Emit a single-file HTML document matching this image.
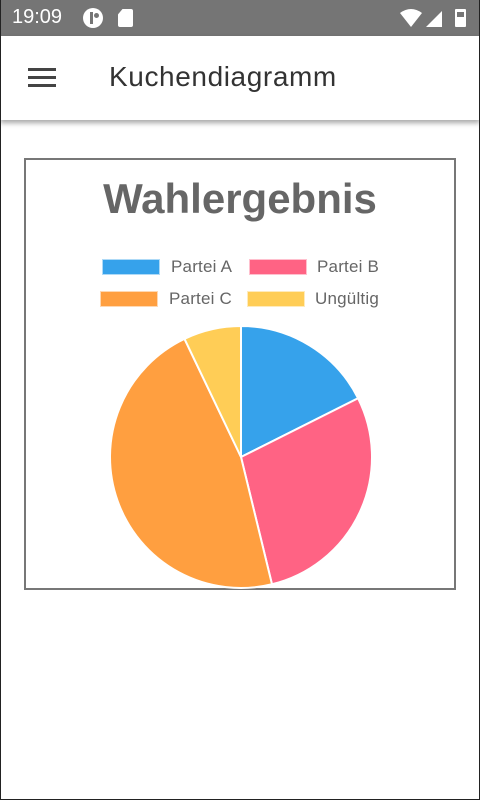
<!DOCTYPE html>
<html><head><meta charset="utf-8">
<style>
*{margin:0;padding:0;box-sizing:border-box}
body{width:480px;height:800px;position:relative;overflow:hidden;background:#fff;font-family:"Liberation Sans",sans-serif;}
#frame{position:absolute;left:0;top:0;width:480px;height:800px;border:1px solid #222;border-top:none;pointer-events:none;z-index:9}
#status{position:absolute;left:0;top:0;width:480px;height:36px;background:#757575;color:#fff}
#appbar{position:absolute;left:0;top:36px;width:480px;height:84px;background:#fff;box-shadow:0 3px 5px rgba(0,0,0,0.35)}
.lg{position:absolute;font-size:17px;color:#666;letter-spacing:0.2px}
.sw{position:absolute;width:58px;height:16px;border:1px solid rgba(255,255,255,0.6)}
</style></head><body>
<div id="frame"></div>
<div id="status">
 <div style="position:absolute;left:12px;top:6px;font-size:20px">19:09</div>
 <div style="position:absolute;left:83px;top:8px;width:20px;height:20px;border-radius:50%;background:#fff"><div style="position:absolute;left:7px;top:4px;width:3px;height:12px;background:#757575"></div><div style="position:absolute;left:11px;top:5px;width:5px;height:5px;border-radius:50%;background:#757575"></div></div>
 <div style="position:absolute;left:118px;top:9px;width:15px;height:18px;background:#fff;border-radius:2px;clip-path:polygon(30% 0,100% 0,100% 100%,0 100%,0 30%)"></div>
 <svg style="position:absolute;left:400px;top:8px" width="70" height="20"><path d="M0 5 Q11 -3 22 5 L11 19Z" fill="#fff"/><path d="M26 19 L42 3 L42 19Z" fill="#fff"/><rect x="55" y="1" width="11" height="18" rx="1" fill="#fff"/><rect x="57" y="4" width="7" height="5" fill="#757575"/></svg>
</div>
<div id="appbar">
 <div style="position:absolute;left:28px;top:32px;width:28px"><div style="height:3px;background:#444;margin-bottom:5px"></div><div style="height:3px;background:#444;margin-bottom:5px"></div><div style="height:3px;background:#444"></div></div>
 <div style="position:absolute;left:109px;top:25px;font-size:28px;color:#333;letter-spacing:0.6px">Kuchendiagramm</div>
</div>
<div style="position:absolute;left:24px;top:158px;width:432px;height:432px;border:2px solid #777"></div>
<div style="position:absolute;left:24px;top:175px;width:432px;text-align:center;font-size:42px;font-weight:bold;color:#666">Wahlergebnis</div>
<div class="sw" style="left:102px;top:259px;background:#36a2eb"></div>
<div class="lg" style="left:171px;top:257px">Partei A</div>
<div class="sw" style="left:249px;top:259px;background:#ff6384"></div>
<div class="lg" style="left:317px;top:257px">Partei B</div>
<div class="sw" style="left:100px;top:291px;background:#ff9f40"></div>
<div class="lg" style="left:169px;top:289px">Partei C</div>
<div class="sw" style="left:247px;top:291px;background:#ffcd56"></div>
<div class="lg" style="left:315px;top:289px">Ungültig</div>
<svg id="pie" style="position:absolute;left:0;top:0" width="480" height="800"></svg>
<script>
const categories=["Partei A","Partei B","Partei C","Ungültig"];
const values=[17.6,28.6,46.7,7.1];
const colors=["#36a2eb","#ff6384","#ff9f40","#ffcd56"];
const svg=document.getElementById('pie');
const cx=241,cy=457,r=131;
const total=values.reduce((a,b)=>a+b,0);
function angleOf(v){return v/total*2*Math.PI;}
let a0=0;
values.forEach((v,i)=>{
 const a1=a0+angleOf(v);
 const x0=cx+r*Math.sin(a0),y0=cy-r*Math.cos(a0);
 const x1=cx+r*Math.sin(a1),y1=cy-r*Math.cos(a1);
 const large=(a1-a0)>Math.PI?1:0;
 const p=document.createElementNS('http://www.w3.org/2000/svg','path');
 p.setAttribute('d',`M${cx} ${cy} L${x0} ${y0} A${r} ${r} 0 ${large} 1 ${x1} ${y1}Z`);
 p.setAttribute('fill',colors[i]);
 p.setAttribute('stroke','#fff');
 p.setAttribute('stroke-width','2');
 
 
 svg.appendChild(p);
 a0=a1;
});
</script>
</body></html>
